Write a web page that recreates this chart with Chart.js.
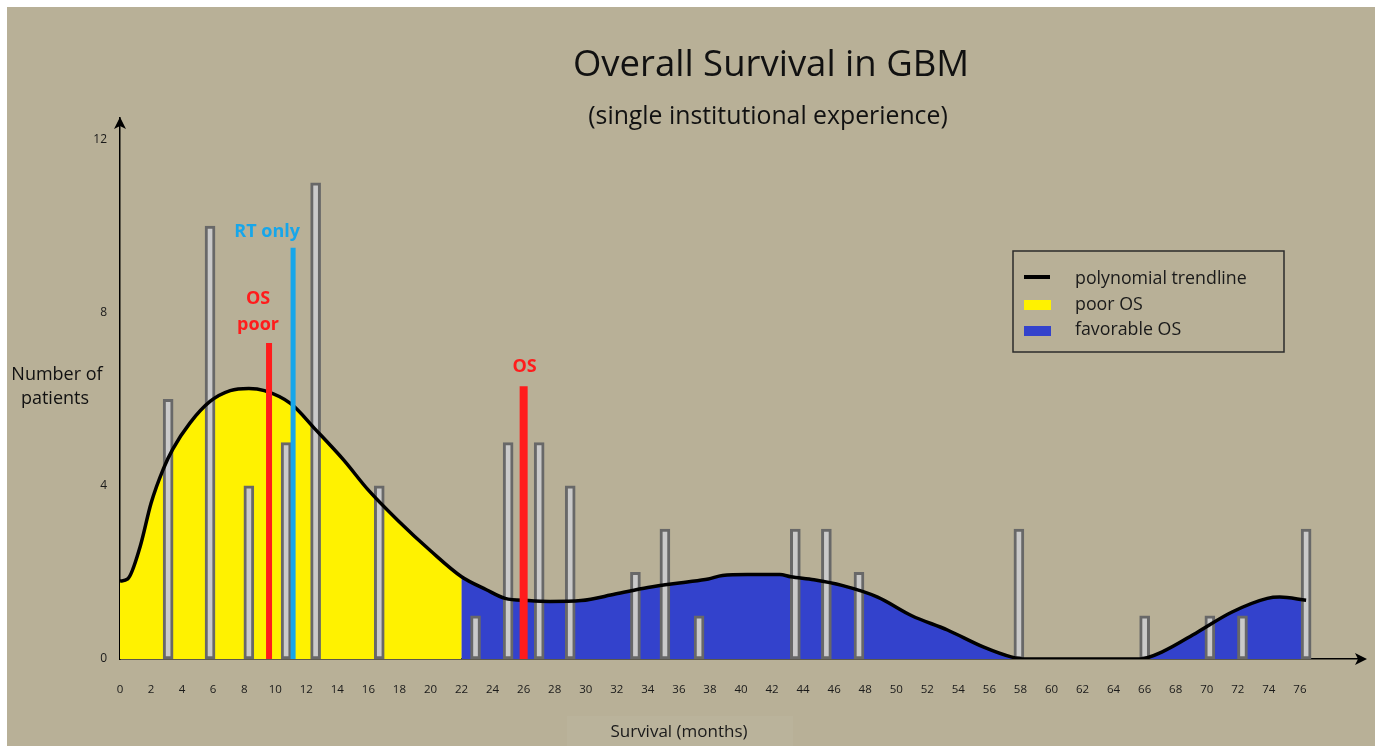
<!DOCTYPE html>
<html>
<head>
<meta charset="utf-8">
<title>Overall Survival in GBM</title>
<script src="https://cdn.jsdelivr.net/npm/chart.js@4.4.1/dist/chart.umd.min.js"></script>
<style>
  html, body { margin: 0; padding: 0; background: #fff; }
  canvas { display: block; }
</style>
</head>
<body>
<canvas id="osChart" width="1379" height="751"></canvas>
<script>
// values
const xTicks = [0, 2, 4, 6, 8, 10, 12, 14, 16, 18, 20, 22, 24, 26, 28, 30, 32, 34, 36, 38,
  40, 42, 44, 46, 48, 50, 52, 54, 56, 58, 60, 62, 64, 66, 68, 70, 72, 74, 76];
const yTicks = [0, 4, 8, 12];

// survival in months and number of patients for each bar
const barMonths = [3.1, 5.8, 8.3, 10.7, 12.6, 16.7, 22.9, 25, 27, 29, 33.2, 35.1, 37.3,
  43.5, 45.5, 47.6, 57.9, 66, 70.2, 72.3, 76.4];
const patientCounts = [6, 10, 4, 5, 11, 4, 1, 5, 5, 4, 2, 3, 1, 3, 3, 2, 3, 1, 1, 1, 3];

// polynomial trendline
const trendMonths = [0, 0.5, 1.3, 2, 2.8, 3.4, 4.5, 5.8, 7.1, 8.3, 9.3, 11, 12.6, 14.4, 16,
  17.9, 20, 22, 23.6, 24.8, 26.3, 27.7, 29.7, 31.9, 34, 36.3, 37.9, 38.8, 40.4, 42.5, 43.2,
  44.7, 46.5, 48.8, 51, 53.3, 55.6, 57.4, 58.3, 62, 65.7, 67.1, 69.4, 71.6, 73.9, 74.7, 76.4];
const trendValues = [1.8, 1.85, 2.6, 3.6, 4.4, 4.85, 5.45, 5.95, 6.2, 6.25, 6.2, 5.9, 5.3, 4.6, 3.9,
  3.2, 2.5, 1.9, 1.6, 1.4, 1.35, 1.33, 1.35, 1.5, 1.65, 1.77, 1.85, 1.93, 1.95, 1.95, 1.9,
  1.83, 1.7, 1.43, 1.0, 0.67, 0.28, 0.05, 0, 0, 0, 0.16, 0.62, 1.08, 1.4, 1.43, 1.36];
const poorOsLimit = 22; // poor OS up to here, favorable after

// median lines
const markerNames = [["OS", "poor"], ["RT only"], ["OS"]];
const markerMonths = [9.6, 11.15, 26];
const markerHeights = [7.3, 9.5, 6.3];

const legendLabels = ["polynomial trendline", "poor OS", "favorable OS"];

const FONT = "'Open Sans', 'Noto Sans', sans-serif";
const YELLOW = "#fff200";
const BLUE = "#3342cc";
const RED = "#ff1c1c";
const CYAN = "#17a6ea";
const markerColors = [RED, CYAN, RED];
const markerWidths = [6, 5, 8];

let trendPoints = trendMonths.map((m, i) => ({ x: m, y: trendValues[i] }));
let barPoints = barMonths.map((m, i) => ({ x: m, y: patientCounts[i] }));

let markerSets = markerMonths.map((m, i) => ({
  type: "line",
  data: [{ x: m, y: 0 }, { x: m, y: markerHeights[i] }],
  borderColor: markerColors[i],
  borderWidth: markerWidths[i],
  borderCapStyle: "butt",
  pointRadius: 0,
  fill: false,
  order: 0
}));

function drawArrow(c, x, y, dir) {
  c.beginPath();
  if (dir === "up") {
    c.moveTo(x, y);
    c.lineTo(x - 6, y + 12);
    c.lineTo(x, y + 9);
    c.lineTo(x + 6, y + 12);
  } else {
    c.moveTo(x, y);
    c.lineTo(x - 12, y - 6);
    c.lineTo(x - 9, y);
    c.lineTo(x - 12, y + 6);
  }
  c.closePath();
  c.fill();
}

const decor = {
  id: "decor",
  beforeDraw(chart) {
    const c = chart.ctx;
    c.save();
    c.fillStyle = "#fff";
    c.fillRect(0, 0, chart.width, chart.height);
    c.fillStyle = "#b8b097";
    c.fillRect(7, 7, 1368, 739);
    c.fillStyle = "#bab39b";
    c.fillRect(567, 716, 226, 30);
    c.restore();
  },
  afterDraw(chart) {
    const c = chart.ctx;
    const area = chart.chartArea;
    const xs = chart.scales.x;
    const ys = chart.scales.y;
    c.save();
    c.fillStyle = "#111";
    c.textAlign = "center";
    c.textBaseline = "middle";

    // titles
    c.font = "36.5px " + FONT;
    c.fillText("Overall Survival in GBM", 771, 66);
    c.font = "24.8px " + FONT;
    c.fillText("(single institutional experience)", 768, 117);

    // axis titles, both written flat
    c.font = "18px " + FONT;
    c.fillText("Number of", 57, 375);
    c.fillText("patients", 55, 399);
    c.fillStyle = "#1a1a1a";
    c.font = "17px " + FONT;
    c.fillText("Survival (months)", 679, 732);

    // axis arrows
    c.fillStyle = "#000";
    drawArrow(c, area.left, area.top - 1, "up");
    drawArrow(c, area.right + 5, area.bottom, "right");

    // labels over the median lines
    const offs = [[-11, -44], [-26, -16], [1, -19]];
    c.font = "bold 18px " + FONT;
    markerNames.forEach((lines, i) => {
      const px = xs.getPixelForValue(markerMonths[i]) + offs[i][0];
      const top = ys.getPixelForValue(markerHeights[i]) + offs[i][1];
      c.fillStyle = markerColors[i];
      lines.forEach((t, j) => c.fillText(t, px, top + j * 26));
    });

    // legend box
    c.strokeStyle = "#2b2b2b";
    c.lineWidth = 1.5;
    c.strokeRect(1013, 251, 271, 101);
    c.fillStyle = "#000";
    c.fillRect(1024, 275, 26, 4);
    c.fillStyle = YELLOW;
    c.fillRect(1024, 300, 27, 10);
    c.fillStyle = BLUE;
    c.fillRect(1024, 326, 27, 10);
    c.fillStyle = "#1a1a1a";
    c.textAlign = "left";
    c.font = "17.8px " + FONT;
    legendLabels.forEach((t, i) => c.fillText(t, 1075, 279 + i * 25.5));
    c.restore();
  }
};

new Chart(document.getElementById("osChart"), {
  type: "line",
  data: {
    datasets: [
      ...markerSets,
      {
        label: legendLabels[0],
        data: trendPoints,
        borderColor: "#000",
        borderWidth: 3.5,
        cubicInterpolationMode: "monotone",
        pointRadius: 0,
        fill: false,
        order: 1
      },
      {
        type: "bar",
        label: "patients",
        data: barPoints,
        backgroundColor: "#cacaca",
        borderColor: "#686868",
        borderWidth: 3,
        borderSkipped: false,
        barThickness: 10,
        grouped: false,
        order: 2
      },
      {
        label: "area",
        data: trendPoints,
        borderWidth: 0,
        backgroundColor: YELLOW,
        cubicInterpolationMode: "monotone",
        pointRadius: 0,
        fill: "origin",
        segment: {
          backgroundColor: ctx => trendMonths[ctx.p0DataIndex] < poorOsLimit ? YELLOW : BLUE
        },
        order: 3
      }
    ]
  },
  options: {
    responsive: false,
    animation: false,
    devicePixelRatio: 1,
    layout: { padding: { top: 118, right: 17, bottom: 0, left: 0 } },
    plugins: {
      legend: { display: false },
      tooltip: { enabled: false },
      title: { display: false }
    },
    scales: {
      x: {
        type: "linear",
        min: 0,
        max: 80,
        offset: false,
        grid: { display: false, drawTicks: false, offset: false },
        border: { color: "#000", width: 1.5 },
        afterBuildTicks: s => { s.ticks = xTicks.map(v => ({ value: v })); },
        afterFit: s => { s.height = 92; },
        ticks: {
          autoSkip: false,
          maxRotation: 0,
          padding: 24,
          color: "#1a1a1a",
          font: { family: FONT, size: 11.5 }
        }
      },
      y: {
        min: 0,
        max: 12.5,
        grid: { display: false, drawTicks: false },
        border: { color: "#000", width: 1.5 },
        afterBuildTicks: s => { s.ticks = yTicks.map(v => ({ value: v })); },
        afterFit: s => { s.width = 120; },
        ticks: {
          padding: 13,
          color: "#1a1a1a",
          font: { family: FONT, size: 12 }
        }
      }
    }
  },
  plugins: [decor]
});
</script>
</body>
</html>
